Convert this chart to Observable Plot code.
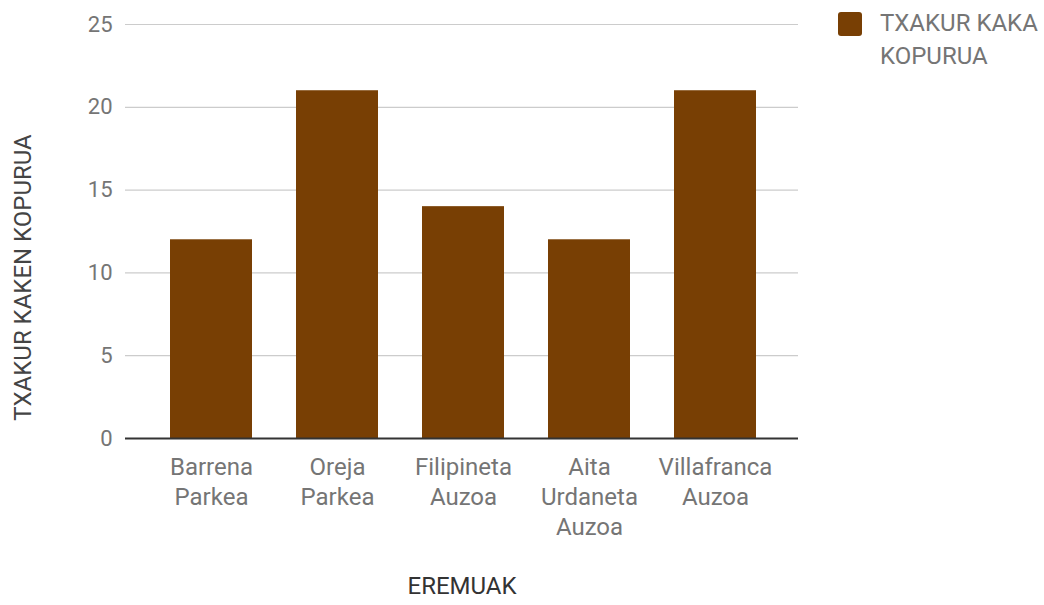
<!DOCTYPE html>
<html>
<head>
<meta charset="utf-8">
<script src="https://cdn.jsdelivr.net/npm/d3@7"></script>
<script src="https://cdn.jsdelivr.net/npm/@observablehq/plot@0.6"></script>
<style>
  html, body { margin: 0; padding: 0; background: #fff; }
  #wrap { position: relative; width: 1044px; height: 605px; font-family: Roboto, sans-serif; }
  #legend { position: absolute; left: 838px; top: 12px; display: flex; align-items: flex-start; }
  #legend .sw { width: 24px; height: 24px; border-radius: 3px; margin-top: 0px; margin-right: 18px; }
  #legend .lb { font-size: 24px; line-height: 33px; color: #757575; width: 190px; margin-top: -5px; }
</style>
</head>
<body>
<div id="wrap"><div id="chart"></div><div id="legend"></div></div>
<script>
const categories = ["Barrena\nParkea", "Oreja\nParkea", "Filipineta\nAuzoa", "Aita\nUrdaneta\nAuzoa", "Villafranca\nAuzoa"];
const values = [12, 21, 14, 12, 21];
const yTicks = [0, 5, 10, 15, 20, 25];
const seriesName = "TXAKUR KAKA\nKOPURUA";
const xTitle = "EREMUAK";
const yTitle = "TXAKUR KAKEN KOPURUA";
const barColor = "#783f04";

const data = categories.map((c, i) => ({cat: c, value: values[i]}));

const chart = Plot.plot({
  width: 1044,
  height: 605,
  marginLeft: 125,
  marginRight: 246,
  marginTop: 24,
  marginBottom: 167,
  style: {fontFamily: "Roboto, sans-serif", fontSize: "20px", color: "#757575", background: "#fff"},
  x: {domain: categories, paddingInner: 0.35, paddingOuter: 0.175, insetLeft: 22, insetRight: 20, label: null},
  y: {domain: [0, 25], label: null},
  marks: [
    Plot.ruleY(yTicks.filter(d => d > 0), {stroke: "#cccccc", strokeWidth: 1.2}),
    Plot.barY(data, {x: "cat", y: "value", fill: barColor}),
    Plot.ruleY([0], {stroke: "#333333", strokeWidth: 1.8}),
    Plot.axisY({ticks: yTicks, tickSize: 0, tickPadding: 13, fontSize: 22, fill: "#757575", label: null}),
    Plot.axisX({tickSize: 0, tickPadding: 15, fontSize: 24, fill: "#757575", lineHeight: 1.25, label: null, lineAnchor: "top"}),
    Plot.text([xTitle], {frameAnchor: "bottom", dy: 155, fontSize: 24, fill: "#333333", textAnchor: "middle"}),
    Plot.text([yTitle], {frameAnchor: "left", dx: -102, dy: 46, rotate: -90, fontSize: 24, fill: "#444444", textAnchor: "middle"})
  ]
});
document.getElementById("chart").appendChild(chart);

const legend = document.getElementById("legend");
legend.innerHTML = `<div class="sw" style="background:${barColor}"></div><div class="lb">${seriesName.replace("\n", "<br>")}</div>`;
</script>
</body>
</html>
